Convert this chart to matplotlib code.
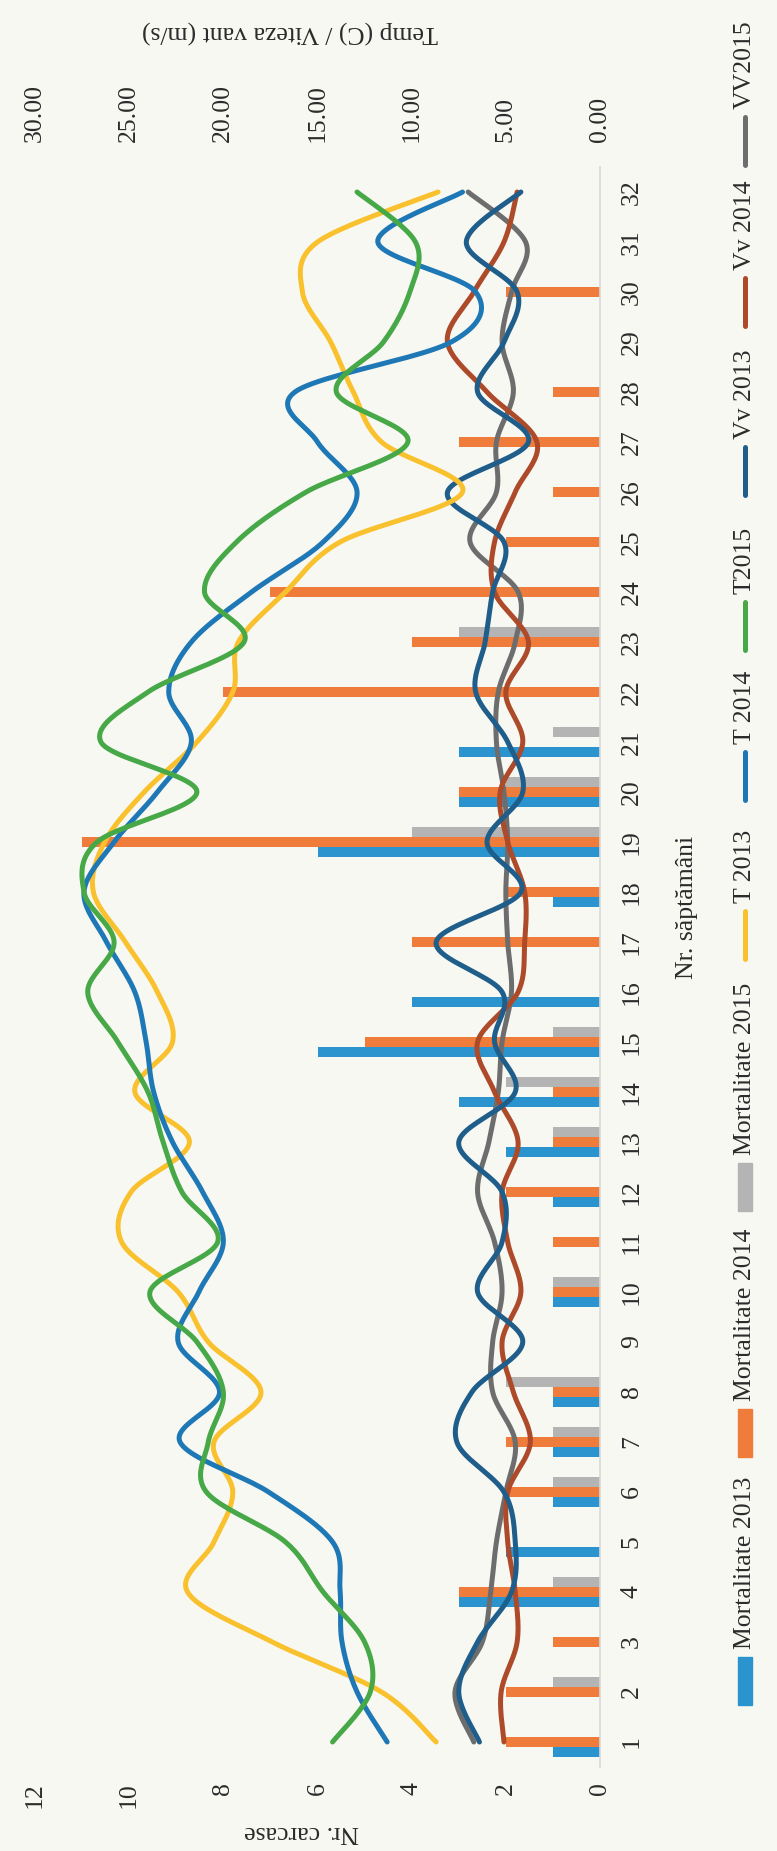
import numpy as np
import matplotlib
matplotlib.use('Agg')
import matplotlib.pyplot as plt
from matplotlib.patches import Rectangle
from matplotlib.lines import Line2D

plt.rcParams['font.family'] = ['Liberation Serif', 'DejaVu Serif']

weeks = np.arange(1, 33)

# mortality (Nr. carcase, left axis)
mort_2013 = [1, 0, 0, 3, 2, 1, 1, 1, 0, 1, 0, 1, 2, 3, 6, 4,
             0, 1, 6, 3, 3, 0, 0, 0, 0, 0, 0, 0, 0, 0, 0, 0]
mort_2014 = [2, 2, 1, 3, 0, 2, 2, 1, 0, 1, 1, 2, 1, 1, 5, 0,
             4, 2, 11, 3, 0, 8, 4, 7, 2, 1, 3, 1, 0, 2, 0, 0]
mort_2015 = [0, 1, 0, 1, 0, 1, 1, 2, 0, 1, 0, 0, 1, 2, 1, 0,
             0, 0, 4, 2, 1, 0, 3, 0, 0, 0, 0, 0, 0, 0, 0, 0]

# temperature / wind speed (right axis)
t_2013 = [8.7, 11.6, 17.4, 21.9, 20.5, 19.5, 20.5, 18.0, 20.8, 22.4, 25.4, 24.9,
          21.8, 24.7, 22.7, 23.5, 25.2, 26.9, 26.3, 24.2, 21.4, 19.5, 19.2, 16.7,
          13.8, 7.3, 11.6, 13.1, 14.3, 15.8, 15.0, 8.6]
t_2014 = [11.3, 12.9, 13.7, 13.8, 14.2, 17.6, 22.3, 20.2, 22.4, 21.3, 20.0, 21.1,
          22.7, 23.7, 24.1, 24.7, 26.2, 27.4, 25.8, 23.5, 21.7, 22.9, 21.7, 18.5,
          14.7, 12.9, 15.0, 16.2, 7.9, 6.6, 11.8, 7.3]
t_2015 = [14.2, 12.2, 12.5, 14.7, 16.7, 20.9, 20.8, 20.0, 21.4, 23.9, 20.3, 22.2,
          23.2, 24.0, 25.6, 27.2, 25.8, 27.4, 26.7, 21.4, 26.5, 24.0, 18.9, 21.0,
          19.3, 15.6, 10.2, 14.0, 11.5, 10.1, 9.8, 12.9]
vv_2013 = [6.4, 7.5, 6.5, 4.7, 4.5, 5.1, 7.6, 6.8, 4.1, 6.5, 5.2, 5.2,
           7.5, 4.5, 5.6, 5.2, 8.7, 4.2, 6.0, 4.1, 4.9, 6.6, 6.1, 5.7,
           5.1, 8.1, 3.8, 6.5, 5.1, 4.4, 7.1, 4.2]
vv_2014 = [5.1, 5.25, 4.4, 4.5, 4.9, 4.9, 3.7, 4.6, 5.2, 4.2, 4.9, 5.2,
           4.35, 5.6, 6.5, 4.35, 4.0, 4.0, 4.9, 5.3, 4.1, 5.0, 3.8, 5.6,
           5.6, 4.5, 3.35, 6.0, 8.1, 6.7, 5.1, 4.4]
vv_2015 = [6.7, 7.7, 6.25, 5.8, 5.5, 5.0, 4.5, 5.7, 5.7, 5.2, 5.6, 6.5,
           5.9, 5.4, 5.2, 4.7, 4.9, 5.0, 4.9, 5.1, 5.5, 5.4, 4.5, 4.35,
           6.9, 5.5, 5.5, 4.6, 5.2, 4.7, 3.95, 7.0]

c_m13, c_m14, c_m15 = '#2b94cf', '#ef7c3a', '#b4b4b4'
c_t13, c_t14, c_t15 = '#f9c12e', '#1f78b6', '#46a846'
c_v13, c_v14, c_v15 = '#1f5d8a', '#ad4a2a', '#6d6d6d'
txt = '#2b2b2b'
fs = 18.5

W, H = 777, 1851


def fx(px):
    return px / W


def fy(py):
    return 1 - py / H


def smooth(xs, ys, n=24):
    # excel style smoothed line (bezier through the points)
    p = np.column_stack([xs, ys]).astype(float)
    ox, oy = [], []
    for i in range(len(p) - 1):
        p0 = p[max(i - 1, 0)]
        p1 = p[i]
        p2 = p[i + 1]
        p3 = p[min(i + 2, len(p) - 1)]
        c1 = p1 + (p2 - p0) / 6
        c2 = p2 - (p3 - p1) / 6
        t = np.linspace(0, 1, n)[:, None]
        b = ((1 - t) ** 3) * p1 + 3 * ((1 - t) ** 2) * t * c1 + 3 * (1 - t) * t ** 2 * c2 + t ** 3 * p2
        ox.extend(b[:, 0])
        oy.extend(b[:, 1])
    return np.array(ox), np.array(oy)


fig = plt.figure(figsize=(W / 100, H / 100), dpi=100, facecolor='#f8f8f3')
ax = fig.add_axes([fx(35), fy(1767), (600 - 35) / W, (1767 - 167) / H])
ax.set_facecolor('none')
ax.set_xlim(12, 0)
ax.set_ylim(0.5, 32.5)

bh = 0.19
ax.barh(weeks - 0.2, mort_2013, height=bh, color=c_m13)
ax.barh(weeks, mort_2014, height=bh, color=c_m14)
ax.barh(weeks + 0.2, mort_2015, height=bh, color=c_m15)

for s in ax.spines.values():
    s.set_visible(False)
ax.spines['right'].set_visible(True)
ax.spines['right'].set_color('#d8d8d8')
ax.spines['right'].set_linewidth(1.2)

ax.set_xticks(np.arange(0, 13, 2))
ax.tick_params(axis='x', length=0, pad=11, labelsize=fs, labelrotation=90, labelcolor=txt)
ax.yaxis.tick_right()
ax.set_yticks(weeks)
ax.tick_params(axis='y', length=0, pad=15, labelsize=fs, labelrotation=90, labelcolor=txt)
for lab in ax.get_yticklabels():
    lab.set_va('center')

ax2 = ax.twiny()
ax2.set_xlim(30, 0)
for s in ax2.spines.values():
    s.set_visible(False)
ax2.set_xticks(np.arange(0, 31, 5))
ax2.set_xticklabels(['%.2f' % v for v in np.arange(0, 31, 5)])
ax2.tick_params(axis='x', length=0, pad=18, labelsize=fs, labelrotation=90, labelcolor=txt)

lines = [(vv_2015, c_v15), (vv_2014, c_v14), (vv_2013, c_v13),
         (t_2013, c_t13), (t_2014, c_t14), (t_2015, c_t15)]
for vals, col in lines:
    yy, xx = smooth(weeks, vals)
    ax2.plot(xx, yy, color=col, lw=3.6, solid_capstyle='round')

fig.text(fx(302), fy(1832), 'Nr. carcase', rotation=180, ha='center', va='center',
         fontsize=fs, color=txt)
fig.text(fx(290), fy(32), 'Temp (C) / Viteza vant (m/s)', rotation=180, ha='center',
         va='center', fontsize=fs, color=txt)
fig.text(fx(687), fy(907), 'Nr. săptămâni', rotation=90, ha='center', va='center',
         fontsize=fs, color=txt)

# legend, drawn by hand because it runs vertically
lx = 745
legend = [('Mortalitate 2013', 'bar', c_m13, 1705),
          ('Mortalitate 2014', 'bar', c_m14, 1457),
          ('Mortalitate 2015', 'bar', c_m15, 1211),
          ('T 2013', 'line', c_t13, 959),
          ('T 2014', 'line', c_t14, 800),
          ('T2015', 'line', c_t15, 650),
          ('Vv 2013', 'line', c_v13, 495),
          ('Vv 2014', 'line', c_v14, 326),
          ('VV2015', 'line', c_v15, 165)]
for name, kind, col, bot in legend:
    top = bot - 48
    if kind == 'bar':
        fig.add_artist(Rectangle((fx(lx - 7), fy(bot)), 14 / W, 48 / H,
                                 transform=fig.transFigure, color=col))
    else:
        fig.add_artist(Line2D([fx(lx), fx(lx)], [fy(bot), fy(top)], transform=fig.transFigure,
                              color=col, lw=3.6, solid_capstyle='round'))
    fig.text(fx(lx), fy(top - 8), name, rotation=90, ha='center', va='bottom',
             fontsize=fs, color=txt)

fig.savefig('out.png', dpi=100, facecolor=fig.get_facecolor())
